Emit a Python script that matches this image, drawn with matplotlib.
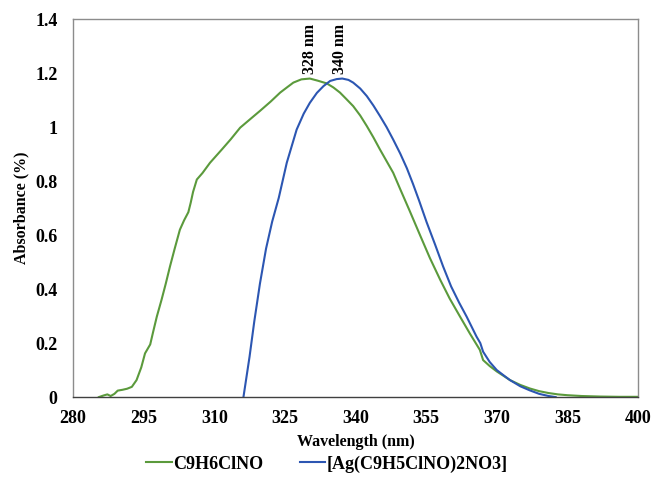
import matplotlib
matplotlib.use("Agg")
import matplotlib.pyplot as plt

plt.rcParams['font.family'] = ['Liberation Serif', 'DejaVu Serif']
plt.rcParams['font.weight'] = 'bold'

# C9H6ClNO spectrum
wl_lig = [285.5, 286.5, 287.3, 288.0, 288.8, 289.5, 290.5, 291.5, 292.5, 293.5,
          294.5, 295.3, 296.4, 297.0, 297.8, 298.8, 299.7, 300.6, 301.6, 302.7,
          303.6, 304.5, 305.0, 305.5, 306.3, 307.5, 309.1, 311.6, 313.5, 315.5,
          318.0, 319.7, 322.0, 324.0, 325.5, 326.8, 328.5, 330.3, 332.0, 333.9,
          335.3, 336.7, 338.0, 339.5, 341.0, 342.4, 343.8, 345.2, 346.6, 348.0,
          349.5, 351.5, 353.7, 355.8, 358.0, 360.0, 362.2, 364.3, 366.4, 367.1,
          368.5, 370.0, 371.5, 372.8, 375.0, 377.0, 379.0, 381.0, 383.0, 385.0,
          388.0, 392.0, 396.0, 400.0]
abs_lig = [0.0, 0.006, 0.01, 0.004, 0.012, 0.024, 0.027, 0.031, 0.038, 0.063,
           0.11, 0.162, 0.195, 0.24, 0.298, 0.36, 0.42, 0.484, 0.55, 0.62,
           0.655, 0.685, 0.72, 0.76, 0.806, 0.83, 0.868, 0.917, 0.955, 0.998,
           1.035, 1.06, 1.095, 1.128, 1.148, 1.165, 1.177, 1.18, 1.172, 1.162,
           1.147, 1.128, 1.105, 1.078, 1.043, 1.004, 0.962, 0.917, 0.874, 0.831,
           0.77, 0.69, 0.60, 0.515, 0.434, 0.365, 0.298, 0.235, 0.175, 0.137,
           0.115, 0.095, 0.078, 0.063, 0.045, 0.032, 0.022, 0.015, 0.01, 0.007,
           0.004, 0.002, 0.001, 0.001]

# [Ag(C9H5ClNO)2NO3] spectrum
wl_cpx = [316.2, 317.5, 318.5, 319.7, 321.0, 322.3, 323.7, 325.4, 327.5, 329.0,
          330.3, 331.8, 333.2, 334.6, 336.0, 337.2, 338.5, 339.5, 341.0, 342.4,
          343.8, 345.2, 346.6, 348.0, 349.5, 350.9, 352.2, 353.5, 355.1, 356.9,
          358.6, 360.3, 362.0, 363.6, 365.7, 366.5, 367.1, 368.5, 370.0, 371.5,
          372.8, 375.0, 377.0, 379.0, 381.0, 382.5]
abs_cpx = [0.0, 0.15, 0.28, 0.42, 0.55, 0.65, 0.738, 0.868, 0.991, 1.05,
           1.09, 1.127, 1.152, 1.171, 1.178, 1.18, 1.175, 1.165, 1.143, 1.115,
           1.08, 1.041, 1.0, 0.954, 0.902, 0.848, 0.79, 0.728, 0.648, 0.565,
           0.484, 0.41, 0.35, 0.298, 0.224, 0.2, 0.168, 0.13, 0.1, 0.08,
           0.063, 0.04, 0.025, 0.012, 0.004, 0.0]

names = ['C9H6ClNO', '[Ag(C9H5ClNO)2NO3]']
peaks = ['328 nm', '340 nm']
peak_pos = [330.3, 336.7]

xticks = [280, 295, 310, 325, 340, 355, 370, 385, 400]
yticks = [0, 0.2, 0.4, 0.6, 0.8, 1, 1.2, 1.4]
ytick_labels = ['0', '0.2', '0.4', '0.6', '0.8', '1', '1.2', '1.4']

fig = plt.figure(figsize=(6.54, 4.79), dpi=100)
ax = fig.add_axes([0.1116, 0.171, 0.864, 0.789])

ax.plot(wl_lig, abs_lig, color='#5b9a3c', lw=1.5, label=names[0])
ax.plot(wl_cpx, abs_cpx, color='#2c56b2', lw=1.5, label=names[1])

for txt, xp in zip(peaks, peak_pos):
    ax.text(xp, 1.198, txt, rotation=90, ha='center', va='bottom',
            fontsize=11.5, fontweight='bold')

ax.set_xlim(280, 400)
ax.set_ylim(0, 1.4)
ax.set_xticks(xticks)
ax.set_yticks(yticks)
ax.set_yticklabels(ytick_labels)
ax.tick_params(length=0, labelsize=13)
ax.tick_params(axis='x', pad=9)
ax.tick_params(axis='y', pad=11)

for s in ax.spines.values():
    s.set_color('#8c8c8c')
    s.set_linewidth(1.0)
ax.spines['bottom'].set_color('#404040')

ax.set_xlabel('Wavelength (nm)', fontsize=11.5, fontweight='bold', labelpad=5)
ax.set_ylabel('Absorbance (%)', fontsize=11.5, fontweight='bold')
ax.yaxis.set_label_coords(-0.077, 0.5)

fig.legend(loc='center', bbox_to_anchor=(0.5, 0.031), ncol=2, frameon=False,
           fontsize=13, handlelength=1.4, handletextpad=0.1, columnspacing=2.0)

fig.savefig('out.png', dpi=100)
